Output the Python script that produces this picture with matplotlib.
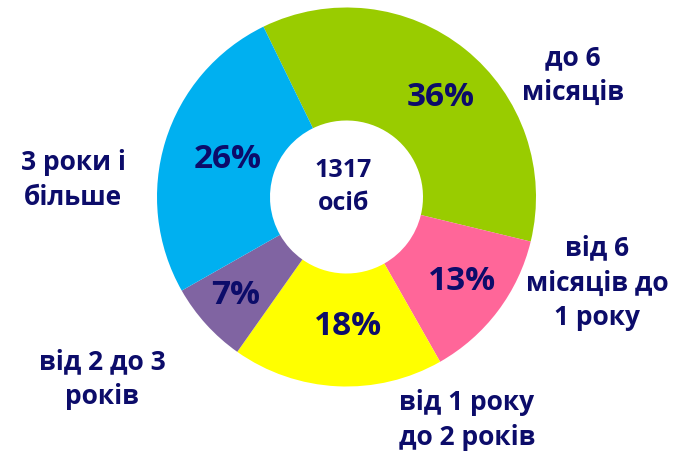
import numpy as np
import matplotlib.pyplot as plt

plt.rcParams['font.family'] = ['Open Sans', 'DejaVu Sans']

categories = ['до 6\nмісяців', 'від 6\nмісяців до\n1 року', 'від 1 року\nдо 2 років',
              'від 2 до 3\nроків', '3 роки і\nбільше']
shares = [36, 13, 18, 7, 26]
colors = ['#99CC00', '#FF6699', '#FFFF00', '#8064A2', '#00B0F0']
total_label = '1317\nосіб'

navy = '#0C0C6A'
W, H = 684, 452
cx, cy = 346.5, H - 198
r_out, r_in = 189.5, 76.5

fig = plt.figure(figsize=(6.84, 4.52), dpi=100)
ax = fig.add_axes([0, 0, 1, 1])
wedges, _ = ax.pie(shares, colors=colors, startangle=116, counterclock=False,
                   radius=r_out, center=(cx, cy),
                   wedgeprops=dict(width=r_out - r_in, linewidth=0))
ax.set_xlim(0, W)
ax.set_ylim(0, H)
ax.set_aspect('equal')
ax.axis('off')

# percentages inside the ring (placed like the original data labels)
pct_pos = [(441, 98), (462, 281), (348, 327), (236, 295), (228, 160)]
for v, (x, y) in zip(shares, pct_pos):
    ax.text(x, H - y, f'{v}%', ha='center', va='center', fontsize=24,
            fontweight='bold', color=navy)

# outer category labels
label_pos = [(573, 75), (597, 283), (467, 420), (102, 379), (73, 180)]
for lab, (x, y) in zip(categories, label_pos):
    ax.text(x, H - y, lab, ha='center', va='center', fontsize=19,
            fontweight='bold', color=navy, linespacing=1.38)

ax.text(cx - 3, H - 187, total_label, ha='center', va='center', fontsize=18,
        fontweight='bold', color=navy, linespacing=1.4)

plt.savefig('out.png', dpi=100)
